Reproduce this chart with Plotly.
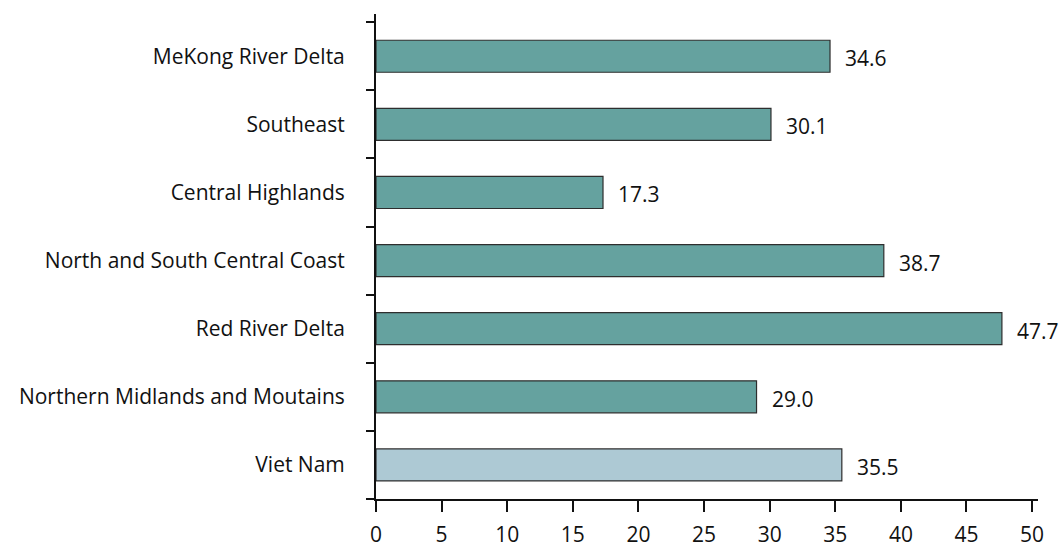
import plotly.graph_objects as go

# Regions listed bottom to top
regions = [
    "Viet Nam",
    "Northern Midlands and Moutains",
    "Red River Delta",
    "North and South Central Coast",
    "Central Highlands",
    "Southeast",
    "MeKong River Delta",
]
values = [35.5, 29.0, 47.7, 38.7, 17.3, 30.1, 34.6]
bar_colors = ["#adc9d4"] + ["#65a29f"] * 6
x_ticks = [0, 5, 10, 15, 20, 25, 30, 35, 40, 45, 50]

FONT = "Open Sans"
FSIZE = 21
INK = "#111111"

fig = go.Figure(
    go.Bar(
        y=regions,
        x=values,
        orientation="h",
        width=0.47,
        marker=dict(color=bar_colors, line=dict(color="#2e2e2e", width=1.2)),
        hoverinfo="skip",
    )
)

# value labels to the right of each bar
for region, v in zip(regions, values):
    fig.add_annotation(
        x=v,
        y=region,
        text=f"{v:.1f}",
        showarrow=False,
        xanchor="left",
        yanchor="middle",
        xshift=13,
        yshift=-2,
        font=dict(family=FONT, size=FSIZE, color=INK),
    )

fig.update_layout(
    width=1060,
    height=548,
    margin=dict(l=376, r=22, t=14, b=49),
    paper_bgcolor="white",
    plot_bgcolor="white",
    showlegend=False,
    font=dict(family=FONT, size=FSIZE, color=INK),
)

fig.update_xaxes(
    automargin=False,
    range=[0, 50.45],
    tickvals=x_ticks,
    ticks="outside",
    ticklen=11,
    tickwidth=2,
    tickcolor=INK,
    showline=True,
    linecolor=INK,
    linewidth=2,
    showgrid=False,
    zeroline=False,
    ticklabelstandoff=5,
    tickfont=dict(family=FONT, size=FSIZE, color=INK),
)

fig.update_yaxes(
    automargin=False,
    type="category",
    categoryorder="array",
    categoryarray=regions,
    range=[-0.5, 6.62],
    tickson="boundaries",
    ticks="outside",
    ticklen=8,
    tickwidth=2,
    tickcolor=INK,
    showline=True,
    linecolor=INK,
    linewidth=2,
    showgrid=False,
    zeroline=False,
    ticklabelstandoff=25,
    tickfont=dict(family=FONT, size=FSIZE, color=INK),
)

fig.write_html("out.html")
